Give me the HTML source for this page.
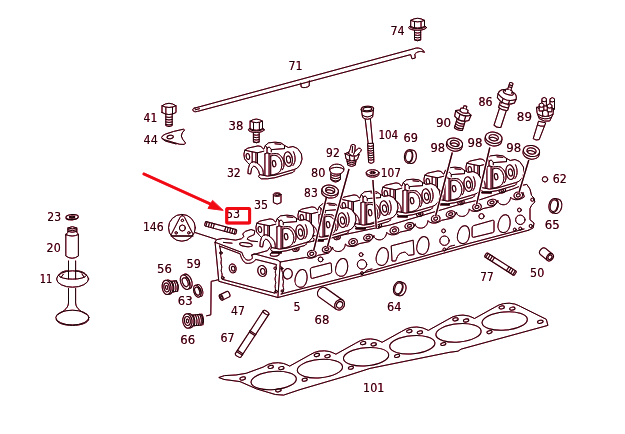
<!DOCTYPE html>
<html><head><meta charset="utf-8"><title>Cylinder head</title>
<style>
html,body{margin:0;padding:0;background:#fff;}
svg{display:block}
.ink{stroke:#160608;stroke-width:1.0;stroke-linejoin:round;stroke-linecap:round}
text{font-family:"DejaVu Sans Condensed","DejaVu Sans","Liberation Sans",sans-serif;font-size:12.8px;fill:#1e080e;stroke:none}
</style></head><body>
<svg width="625" height="434" viewBox="0 0 625 434">
<defs>
<filter id="h" x="0" y="0" width="625" height="434" filterUnits="userSpaceOnUse" color-interpolation-filters="sRGB">
<feColorMatrix in="SourceGraphic" type="matrix" values="0 0 0 0 0  0 0 0 0 0  0 0 0 0 0  -0.5 -0.5 -0.5 0 1.5" result="a"/>
<feGaussianBlur in="a" stdDeviation="0.75" result="b"/>
<feComponentTransfer in="b" result="c"><feFuncA type="linear" slope="1.5" intercept="0"/></feComponentTransfer>
<feFlood flood-color="#ff1a55" flood-opacity="0.55"/>
<feComposite in2="c" operator="in" result="p"/>
<feBlend in="SourceGraphic" in2="p" mode="multiply"/>
</filter>
<g id="br"><path d="M0.0,11.9 L0.8,8.2 L3.9,6.1 L14.0,3.9 L17.2,4.5 L18.8,6.6 L19.8,7.1 L21.4,3.4 L24.6,0.8 L31.0,0.2 L36.8,0.8 L40.5,3.4 L44.2,5.5 L49.0,4.5 L53.7,6.6 L57.4,11.9 L58.0,17.2 L56.4,22.5 L53.2,26.2 L49.5,27.8 L50.6,28.8 L49.0,30.4 L31.0,35.7 L23.5,36.8 L17.2,36.8 L14.5,34.7 L15.6,32.5 L14.5,28.8 L11.9,25.1 L9.8,24.1 L7.7,26.2 L6.6,32.0 L3.9,31.5 L4.3,26.7 L5.5,22.5 L3.4,20.4 L0.8,17.2Z" fill="#fff"/><ellipse cx="3.9" cy="14.5" rx="1.7" ry="3" transform="rotate(-10 3.9 14.5)" fill="none"/><path fill="none" d="M8.2,9.8V20.4 M11.9,10.8V20.9 M13.5,10.8V21.4 M0.8,8.2L8.2,9.8L13.5,10.8L19.8,9.2 M5.5,22.5C7,20.2 8.5,19.6 9.8,19.8C11.8,20 13.3,20.8 14.5,22C17,24.5 18.3,26 18.8,27.8C19.3,29.6 19.3,31.5 19.3,33.1 M20.9,11.9V33.1 M25.1,11.4V33.6 M26.7,14V33.1 M20.9,11.9L23,10.8L26.7,11.9 M23,10.8V6.1L25.1,5L27.3,7.1V9.8 M26.7,14C28.5,13.3 30.4,13.2 32,13.5C34,14.2 35.4,15.6 36.3,17.2C37.4,19.2 37.8,21.3 37.8,23.5C37.8,25.6 37.2,27.4 36.3,28.8C35.2,30.5 33.7,31.4 32,32C30.2,32.6 28.5,33 26.7,33.1 M27.8,11.9C30,11.4 32,11.4 34.1,11.9C36,12.8 37.4,14.3 38.4,16.1C39.5,18.1 40,20.3 40,22.5C40,24.5 39.4,26.3 38.4,27.8 M49.5,9.8C50.6,12 51.1,14.6 51.1,17.2C51.1,19.6 50.3,21.8 49,23.5 M15.6,32.5L23.5,34.1L31,33.1L49,27.8 M21.4,3.4L23.5,6.6 M27.8,7.6L40.5,6.6 M31,1.8L36.8,2.4 M40.5,3.4L40.5,6.6"/><ellipse cx="30.1" cy="21.6" rx="1.7" ry="3.2" fill="none" transform="rotate(-8 30.1 21.6)"/><ellipse cx="44.2" cy="17.2" rx="4.2" ry="7.4" fill="#fff" transform="rotate(-8 44.2 17.2)"/><ellipse cx="44.5" cy="17.5" rx="2" ry="3.6" fill="none" transform="rotate(-8 44.5 17.5)"/></g>
</defs>
<g filter="url(#h)">
<rect width="625" height="434" fill="#fff"/>
<text x="225.9" y="218.2" textLength="14.2" lengthAdjust="spacingAndGlyphs">53</text>
<g class="ink">
<path d="M215.1,242.5 L218.8,281.3 L277.9,297.5 L370.0,273.8 L470.0,245.8 L528.4,230.3 L528.4,230.3 L533.2,227.9 L534.0,223.0 L530.0,219.8 L530.0,208.5 L531.6,205.3 L534.8,202.0 L534.0,198.0 L531.6,195.6 L530.0,189.2 L526.8,184.4 L522.7,185.2 L512.3,189.2 L480.0,199.7 L460.0,204.3 L390.0,225.0 L293.6,245.3 L271.4,247.1 L254.8,230.8 L251.0,229.5 L245.2,231.4 L242.7,234.0 L243.9,236.5 L241.4,238.8 L235.6,240.1 L229.2,239.3 L222.8,238.4 L216.4,239.7Z" fill="#fff" stroke="none"/>
<path d="M215.1,242.5 L218.8,281.3 L277.9,297.5 L280.3,262.0" fill="none" />
<path d="M215.1,242.3 L242,252.5 C242.6,254.5 243,256 243.9,257 C245,259 246.5,260.3 248.4,260.2 C250,260.1 251.5,259.5 252.3,258.3 C252.6,257 252,256 251.6,255.1 L254.2,253.8 L277.9,260.2 L280.3,262" fill="none" />
<path d="M219.6,246.1 L240.1,253.8 C240.8,256 241.2,257.6 242,258.9 C243.2,261.3 245,263.3 247.1,263.4 C249.5,263.5 251.6,263 252.9,262.1 C254.4,261.2 255.2,260.6 255.6,259.4 L276.6,264.6 C275.2,266.5 277.2,268.5 275.6,270.5 C274.4,272.5 276.8,274.5 275.4,277 C274.2,279.5 276.6,282 275.4,284.5 C274.5,287 276.4,289.5 275,293.2 L222.3,279.3 C221,277 223,275 221.6,272.5 C220.4,270 222.6,267.5 221.4,265 C220.2,262.5 222.2,260 221,257.5 C220,255 221.6,252 219.6,246.1Z" fill="none" />
<circle cx="220.9" cy="252.9" r="1.3" fill="none"/>
<circle cx="222.7" cy="277.8" r="1.3" fill="none"/>
<circle cx="275.2" cy="268.3" r="1.3" fill="none"/>
<circle cx="276.1" cy="291.6" r="1.3" fill="none"/>
<ellipse cx="232.7" cy="268.4" rx="3.4" ry="4.5" fill="none" transform="rotate(-12 232.7 268.4)" />
<ellipse cx="233.2" cy="268.7" rx="1.7" ry="2.4" fill="none" transform="rotate(-12 233.2 268.7)" />
<ellipse cx="262.2" cy="271" rx="4.4" ry="5.5" fill="none" transform="rotate(-12 262.2 271)" />
<ellipse cx="262.8" cy="271.4" rx="2.2" ry="3" fill="none" transform="rotate(-12 262.8 271.4)" />
<path d="M215.1,242.5 L216.4,239.7 L222.8,238.4 L229.2,239.3 L235.6,240.1 L241.4,238.8 L243.9,236.5 L242.7,234.0 L245.2,231.4 L251.0,229.5 L254.8,230.8 L254.2,234.6 L248.4,237.2 L247.1,239.1 L251.0,241.0 L257.5,241.6" fill="none" />
<ellipse cx="245.9" cy="244.6" rx="6.4" ry="1.9" fill="none" transform="rotate(8 245.9 244.6)" />
<ellipse cx="274.7" cy="254.4" rx="4.5" ry="1.8" fill="none" transform="rotate(-5 274.7 254.4)" />
<path d="M251.6,255.1 L267.6,250.6 L270.2,246.8" fill="none" />
<path d="M223.4,242.4 L232.0,243.2" fill="none" />
<path d="M280.3,262 L305.8,257.4 Q311.8,259.8 317.8,255.4 L328.3,253.2 Q332.4,250.1 332.6,247.2 C332.6,250.2 335.8,251.8 339.0,251.5 C342.6,251.2 345.2,247.6 345.4,244.0 L347.1,245.7 Q353.1,248.1 359.1,243.7 L369.6,241.5 Q373.7,238.4 373.9,235.5 C373.9,238.5 377.1,240.1 380.3,239.8 C383.9,239.5 386.5,235.9 386.7,232.3 L388.4,234.0 Q394.4,236.4 400.4,232.0 L410.9,229.8 Q415.0,226.7 415.2,223.8 C415.2,226.8 418.4,228.4 421.6,228.1 C425.2,227.8 427.8,224.2 428.0,220.6 L429.7,222.3 Q435.7,224.7 441.7,220.3 L452.2,218.1 Q456.3,215.0 456.5,212.1 C456.5,215.1 459.7,216.7 462.9,216.4 C466.5,216.1 469.1,212.5 469.3,208.9 L471.0,210.6 Q477.0,213.0 483.0,208.6 L493.5,206.4 Q497.6,203.3 497.8,200.4 C497.8,203.4 501.0,205.0 504.2,204.7 C507.8,204.4 510.4,200.8 510.6,197.2 L512.3,198.9 Q518.3,201.3 524.3,196.9 L523,192.5" fill="none" />
<path d="M277.9,297.5 L370.0,273.8 L470.0,245.8 L528.4,230.3" fill="none" />
<path d="M522.7,185.2 L526.8,184.4 L530.0,189.2 L531.6,195.6 L534.0,198.0 L534.8,202.0 L531.6,205.3 L530.0,208.5 L530.0,219.8 L534.0,223.0 L533.2,227.9 L528.4,230.3" fill="none" />
<circle cx="532.4" cy="199.7" r="1.6" fill="none"/>
<circle cx="530.8" cy="226" r="1.6" fill="none"/>
<path d="M281.0,294.0 L370.0,271.2 L470.0,243.2 L524.0,229.0" fill="none" />
<path d="M293.6,245.3 L390.0,225.0 L460.0,204.3 L480.0,199.7 L512.3,189.2 L522.7,185.2" fill="none" />
<path d="M280.6,266 C282.5,268 281,270 282.6,272.5 C284,275 281.8,277.5 283.2,280 C284.4,282.5 282,285 283.4,287.5 C284.4,290 282.6,292 282,294" fill="none" />
<circle cx="281.8" cy="268.5" r="1.1" fill="none"/>
<circle cx="282.2" cy="291" r="1.1" fill="none"/>
<path fill="none" transform="translate(301.2 278.4) rotate(12)" d="M0,-9 C3.5,-9 5.9,-4.5 5.9,1 C5.9,5.7 3.5,9 0,9 C-3.5,9 -5.9,5.7 -5.9,1 C-5.9,-4.5 -3.5,-9 0,-9Z"/>
<path fill="none" transform="translate(341.8 267.4) rotate(12)" d="M0,-9 C3.5,-9 5.9,-4.5 5.9,1 C5.9,5.7 3.5,9 0,9 C-3.5,9 -5.9,5.7 -5.9,1 C-5.9,-4.5 -3.5,-9 0,-9Z"/>
<path fill="none" transform="translate(382.4 256.5) rotate(12)" d="M0,-9 C3.5,-9 5.9,-4.5 5.9,1 C5.9,5.7 3.5,9 0,9 C-3.5,9 -5.9,5.7 -5.9,1 C-5.9,-4.5 -3.5,-9 0,-9Z"/>
<path fill="none" transform="translate(423.0 245.5) rotate(12)" d="M0,-9 C3.5,-9 5.9,-4.5 5.9,1 C5.9,5.7 3.5,9 0,9 C-3.5,9 -5.9,5.7 -5.9,1 C-5.9,-4.5 -3.5,-9 0,-9Z"/>
<path fill="none" transform="translate(463.6 234.6) rotate(12)" d="M0,-9 C3.5,-9 5.9,-4.5 5.9,1 C5.9,5.7 3.5,9 0,9 C-3.5,9 -5.9,5.7 -5.9,1 C-5.9,-4.5 -3.5,-9 0,-9Z"/>
<path fill="none" transform="translate(504.2 223.6) rotate(12)" d="M0,-9 C3.5,-9 5.9,-4.5 5.9,1 C5.9,5.7 3.5,9 0,9 C-3.5,9 -5.9,5.7 -5.9,1 C-5.9,-4.5 -3.5,-9 0,-9Z"/>
<ellipse cx="287.8" cy="273.8" rx="4.5" ry="5.2" fill="none" transform="rotate(10 287.8 273.8)" />
<path d="M310.3,269.5 Q310.2,268.0 311.7,267.6 L329.7,263.0 Q331.2,262.6 331.3,264.1 L331.7,271.5 Q331.8,273.0 330.4,273.4 L312.4,278.4 Q311.0,278.8 310.9,277.3 Z" fill="none" />
<path d="M472.1,227.6 Q472.1,226.1 473.5,225.7 L492.6,220.3 Q494.0,219.9 494.0,221.4 L494.0,230.9 Q494.0,232.4 492.5,232.7 L473.6,237.3 Q472.1,237.6 472.1,236.1 Z" fill="none" />
<path d="M391.6,245.8 L413.2,240.2 L414,254.6 L408.4,255.4 C406.5,253 405.5,252 404.4,252.2 C401.5,252.6 400,253.5 398.8,254.6 C396.8,257 396.4,259.5 395.6,261 L392.4,261Z" fill="none" />
<circle cx="320.6" cy="259.4" r="2.4" fill="none"/>
<circle cx="481.5" cy="216.2" r="2.6" fill="none"/>
<circle cx="362" cy="264.4" r="4.7" fill="none"/>
<circle cx="361.1" cy="254.59999999999997" r="1.9" fill="none"/>
<circle cx="362" cy="273.2" r="1.5" fill="none"/>
<path d="M364.2,272.8 C366.0,269.9 369.0,269.4 372.0,269.0" fill="none" />
<circle cx="444.5" cy="240.7" r="4.7" fill="none"/>
<circle cx="443.6" cy="230.89999999999998" r="1.9" fill="none"/>
<circle cx="444.5" cy="249.5" r="1.5" fill="none"/>
<path d="M446.7,249.1 C448.5,246.2 451.5,245.7 454.5,245.3" fill="none" />
<circle cx="520.3" cy="219.8" r="4.7" fill="none"/>
<circle cx="519.4" cy="210.0" r="1.9" fill="none"/>
<circle cx="520.3" cy="228.60000000000002" r="1.5" fill="none"/>
<circle cx="514.8" cy="229.5" r="1.4" fill="none"/>
<ellipse cx="295.8" cy="249.0" rx="3.3" ry="2.4" fill="none" transform="rotate(-15 295.8 249.0)" />
<ellipse cx="295.8" cy="249.0" rx="1.3" ry="0.9" fill="none" transform="rotate(-15 295.8 249.0)" />
<ellipse cx="311.8" cy="253.8" rx="4.4" ry="3.5" fill="#fff" transform="rotate(-15 311.8 253.8)" />
<ellipse cx="311.8" cy="253.8" rx="2.0" ry="1.5" fill="none" transform="rotate(-15 311.8 253.8)" />
<ellipse cx="326.8" cy="249.2" rx="4.6" ry="3.1" fill="#fff" transform="rotate(-15 326.8 249.2)" />
<ellipse cx="326.8" cy="249.2" rx="2.1" ry="1.3" fill="none" transform="rotate(-15 326.8 249.2)" />
<ellipse cx="337.1" cy="237.3" rx="3.3" ry="2.4" fill="none" transform="rotate(-15 337.1 237.3)" />
<ellipse cx="337.1" cy="237.3" rx="1.3" ry="0.9" fill="none" transform="rotate(-15 337.1 237.3)" />
<ellipse cx="353.1" cy="242.1" rx="4.4" ry="3.5" fill="#fff" transform="rotate(-15 353.1 242.1)" />
<ellipse cx="353.1" cy="242.1" rx="2.0" ry="1.5" fill="none" transform="rotate(-15 353.1 242.1)" />
<ellipse cx="368.1" cy="237.5" rx="4.6" ry="3.1" fill="#fff" transform="rotate(-15 368.1 237.5)" />
<ellipse cx="368.1" cy="237.5" rx="2.1" ry="1.3" fill="none" transform="rotate(-15 368.1 237.5)" />
<ellipse cx="378.4" cy="225.6" rx="3.3" ry="2.4" fill="none" transform="rotate(-15 378.4 225.6)" />
<ellipse cx="378.4" cy="225.6" rx="1.3" ry="0.9" fill="none" transform="rotate(-15 378.4 225.6)" />
<ellipse cx="394.4" cy="230.4" rx="4.4" ry="3.5" fill="#fff" transform="rotate(-15 394.4 230.4)" />
<ellipse cx="394.4" cy="230.4" rx="2.0" ry="1.5" fill="none" transform="rotate(-15 394.4 230.4)" />
<ellipse cx="409.4" cy="225.8" rx="4.6" ry="3.1" fill="#fff" transform="rotate(-15 409.4 225.8)" />
<ellipse cx="409.4" cy="225.8" rx="2.1" ry="1.3" fill="none" transform="rotate(-15 409.4 225.8)" />
<ellipse cx="419.7" cy="213.9" rx="3.3" ry="2.4" fill="none" transform="rotate(-15 419.7 213.9)" />
<ellipse cx="419.7" cy="213.9" rx="1.3" ry="0.9" fill="none" transform="rotate(-15 419.7 213.9)" />
<ellipse cx="435.7" cy="218.7" rx="4.4" ry="3.5" fill="#fff" transform="rotate(-15 435.7 218.7)" />
<ellipse cx="435.7" cy="218.7" rx="2.0" ry="1.5" fill="none" transform="rotate(-15 435.7 218.7)" />
<ellipse cx="450.7" cy="214.1" rx="4.6" ry="3.1" fill="#fff" transform="rotate(-15 450.7 214.1)" />
<ellipse cx="450.7" cy="214.1" rx="2.1" ry="1.3" fill="none" transform="rotate(-15 450.7 214.1)" />
<ellipse cx="461.0" cy="202.2" rx="3.3" ry="2.4" fill="none" transform="rotate(-15 461.0 202.2)" />
<ellipse cx="461.0" cy="202.2" rx="1.3" ry="0.9" fill="none" transform="rotate(-15 461.0 202.2)" />
<ellipse cx="477.0" cy="207.0" rx="4.4" ry="3.5" fill="#fff" transform="rotate(-15 477.0 207.0)" />
<ellipse cx="477.0" cy="207.0" rx="2.0" ry="1.5" fill="none" transform="rotate(-15 477.0 207.0)" />
<ellipse cx="492.0" cy="202.4" rx="4.6" ry="3.1" fill="#fff" transform="rotate(-15 492.0 202.4)" />
<ellipse cx="492.0" cy="202.4" rx="2.1" ry="1.3" fill="none" transform="rotate(-15 492.0 202.4)" />
<ellipse cx="502.3" cy="190.5" rx="3.3" ry="2.4" fill="none" transform="rotate(-15 502.3 190.5)" />
<ellipse cx="502.3" cy="190.5" rx="1.3" ry="0.9" fill="none" transform="rotate(-15 502.3 190.5)" />
<ellipse cx="518.3" cy="195.3" rx="4.4" ry="3.5" fill="#fff" transform="rotate(-15 518.3 195.3)" />
<ellipse cx="518.3" cy="195.3" rx="2.0" ry="1.5" fill="none" transform="rotate(-15 518.3 195.3)" />
<use href="#br" x="466.0" y="155.0"/>
<path d="M482.0,192.4 l9,0.4" stroke-width="2" fill="none"/>
<use href="#br" x="424.0" y="167.0"/>
<path d="M440.0,204.4 l9,0.4" stroke-width="2" fill="none"/>
<use href="#br" x="382.0" y="179.0"/>
<path d="M398.0,216.4 l9,0.4" stroke-width="2" fill="none"/>
<use href="#br" x="340.0" y="191.0"/>
<path d="M356.0,228.4 l9,0.4" stroke-width="2" fill="none"/>
<use href="#br" x="298.0" y="203.0"/>
<path d="M314.0,240.4 l9,0.4" stroke-width="2" fill="none"/>
<use href="#br" x="256.0" y="215.0"/>
<path d="M272.0,252.4 l9,0.4" stroke-width="2" fill="none"/>
<use href="#br" x="244" y="142"/>
<path d="M326.5,197 L313.7,250.5 M349,169 L327.5,246.5 M372.9,180 L376.3,228 M452.3,152.5 L435.6,216 M489.8,147.5 L476.5,204.5 M528.8,160 L519,192.5" fill="none" stroke="#fff" stroke-width="3.4" stroke-linecap="butt"/>
<path d="M326.5,197 L313.7,250.5 M349,169 L327.5,246.5 M372.9,180 L376.3,228 M452.3,152.5 L435.6,216 M489.8,147.5 L476.5,204.5 M528.8,160 L519,192.5" fill="none" stroke-width="1.25" stroke-linecap="butt"/>
<path d="M195,232.5 L215.8,239.2" fill="none" />
<path d="M219.2,377.4 L224.5,375.6 L235.8,375.0 L246.2,373.3 L263.1,367.1 L268.1,364.4 L272.7,363.1 L278.2,362.7 L283.7,363.5 L287.2,364.9 L289.7,366.1 L309.3,355.2 L314.3,352.5 L318.9,351.2 L324.4,350.8 L329.9,351.6 L333.4,353.0 L335.9,354.2 L355.5,343.3 L360.5,340.6 L365.1,339.3 L370.6,338.9 L376.1,339.7 L379.6,341.1 L382.1,342.3 L401.7,331.4 L406.7,328.7 L411.3,327.4 L416.8,327.0 L422.3,327.8 L425.8,329.2 L428.3,330.4 L447.9,319.5 L452.9,316.8 L457.5,315.5 L463.0,315.1 L468.5,315.9 L472.0,317.3 L474.5,318.5 L494.1,307.6 L499.1,304.9 L503.7,303.6 L509.2,303.2 L514.7,304.0 L518.2,305.4 L520.7,306.6 L546.3,319.3 L547.9,325.4 L461.2,349.1 L458.0,351.2 L449.0,352.4 L370.0,368.4 L345.0,376.4 L300.0,389.6 L283.6,395.1 L275.3,394.5 L256.6,388.9 L240.0,381.6 L224.4,379.5Z" fill="#fff" />
<ellipse cx="273.7" cy="380.5" rx="22.7" ry="9.1" fill="none" transform="rotate(-5 273.7 380.5)" />
<ellipse cx="270.7" cy="366.9" rx="2.7" ry="1.5" fill="none" transform="rotate(-12 270.7 366.9)" />
<ellipse cx="281.3" cy="368.1" rx="2.7" ry="1.5" fill="none" transform="rotate(-12 281.3 368.1)" />
<ellipse cx="304.7" cy="379.7" rx="2.6" ry="1.4" fill="none" transform="rotate(-14 304.7 379.7)" />
<ellipse cx="319.9" cy="368.6" rx="22.7" ry="9.1" fill="none" transform="rotate(-5 319.9 368.6)" />
<ellipse cx="316.9" cy="355.0" rx="2.7" ry="1.5" fill="none" transform="rotate(-12 316.9 355.0)" />
<ellipse cx="327.5" cy="356.2" rx="2.7" ry="1.5" fill="none" transform="rotate(-12 327.5 356.2)" />
<ellipse cx="350.9" cy="367.8" rx="2.6" ry="1.4" fill="none" transform="rotate(-14 350.9 367.8)" />
<ellipse cx="366.1" cy="356.7" rx="22.7" ry="9.1" fill="none" transform="rotate(-5 366.1 356.7)" />
<ellipse cx="363.1" cy="343.1" rx="2.7" ry="1.5" fill="none" transform="rotate(-12 363.1 343.1)" />
<ellipse cx="373.7" cy="344.3" rx="2.7" ry="1.5" fill="none" transform="rotate(-12 373.7 344.3)" />
<ellipse cx="397.1" cy="355.9" rx="2.6" ry="1.4" fill="none" transform="rotate(-14 397.1 355.9)" />
<ellipse cx="412.3" cy="344.8" rx="22.7" ry="9.1" fill="none" transform="rotate(-5 412.3 344.8)" />
<ellipse cx="409.3" cy="331.2" rx="2.7" ry="1.5" fill="none" transform="rotate(-12 409.3 331.2)" />
<ellipse cx="419.9" cy="332.4" rx="2.7" ry="1.5" fill="none" transform="rotate(-12 419.9 332.4)" />
<ellipse cx="443.3" cy="344.0" rx="2.6" ry="1.4" fill="none" transform="rotate(-14 443.3 344.0)" />
<ellipse cx="458.5" cy="332.9" rx="22.7" ry="9.1" fill="none" transform="rotate(-5 458.5 332.9)" />
<ellipse cx="455.5" cy="319.3" rx="2.7" ry="1.5" fill="none" transform="rotate(-12 455.5 319.3)" />
<ellipse cx="466.1" cy="320.5" rx="2.7" ry="1.5" fill="none" transform="rotate(-12 466.1 320.5)" />
<ellipse cx="489.5" cy="332.1" rx="2.6" ry="1.4" fill="none" transform="rotate(-14 489.5 332.1)" />
<ellipse cx="504.7" cy="321.0" rx="22.7" ry="9.1" fill="none" transform="rotate(-5 504.7 321.0)" />
<ellipse cx="501.7" cy="307.4" rx="2.7" ry="1.5" fill="none" transform="rotate(-12 501.7 307.4)" />
<ellipse cx="512.3" cy="308.6" rx="2.7" ry="1.5" fill="none" transform="rotate(-12 512.3 308.6)" />
<ellipse cx="242.7" cy="378.5" rx="2.8" ry="1.5" fill="none" transform="rotate(-12 242.7 378.5)" />
<ellipse cx="278.4" cy="390.3" rx="2.8" ry="1.5" fill="none" transform="rotate(-12 278.4 390.3)" />
<ellipse cx="540.3" cy="321.8" rx="2.8" ry="1.5" fill="none" transform="rotate(-12 540.3 321.8)" />
<path d="M195,108 L413.3,48.9 C418,46.8 423,48.6 424.4,52.4 C421,50.6 417,51.6 414.8,54 L415.3,58 L412,58.8 L410.7,54.6 L197.5,111.4 C195,112.2 192.8,111.5 192.8,109.8 C192.8,108.4 194,108 195,108Z M195.2,109.8 L199.5,108.7" fill="#fff" />
<path d="M300.8,83.2 L301.2,87 C303.5,88.2 307,87.6 309.2,86 L309.4,80.9" fill="none" />
<path d="M414.5,29.7 V39.8 Q417.6,41.8 420.70000000000005,39.8 V29.7" fill="#fff" />
<path d="M414.5,32.6 Q417.6,33.6 420.70000000000005,32.6" fill="none" />
<path d="M414.5,35.0 Q417.6,36.0 420.70000000000005,35.0" fill="none" />
<path d="M414.5,37.4 Q417.6,38.4 420.70000000000005,37.4" fill="none" />
<path d="M414.5,39.8 Q417.6,40.8 420.70000000000005,39.8" fill="none" />
<ellipse cx="417.6" cy="27.599999999999998" rx="8.9" ry="2.7" fill="#fff" />
<ellipse cx="417.6" cy="26.599999999999998" rx="7.7" ry="2.1" fill="#fff" />
<path d="M410.70000000000005,26.599999999999998 V20.4 Q417.6,16.2 424.5,20.4 V26.599999999999998 Q417.6,29.599999999999998 410.70000000000005,26.599999999999998Z" fill="#fff" />
<path d="M410.70000000000005,20.4 Q417.6,23.4 424.5,20.4 M414.495,21.9 V27.9 M421.05,21.799999999999997 V27.799999999999997" fill="none" />
<path d="M253.4,131.9 V141.8 Q256.3,143.8 259.2,141.8 V131.9" fill="#fff" />
<path d="M253.4,134.8 Q256.3,135.8 259.2,134.8" fill="none" />
<path d="M253.4,137.2 Q256.3,138.2 259.2,137.2" fill="none" />
<path d="M253.4,139.6 Q256.3,140.6 259.2,139.6" fill="none" />
<path d="M253.4,142.0 Q256.3,143.0 259.2,142.0" fill="none" />
<ellipse cx="256.3" cy="129.8" rx="7.9" ry="2.7" fill="#fff" />
<ellipse cx="256.3" cy="128.8" rx="6.7" ry="2.1" fill="#fff" />
<path d="M250.10000000000002,128.8 V121.2 Q256.3,117.0 262.5,121.2 V128.8 Q256.3,131.8 250.10000000000002,128.8Z" fill="#fff" />
<path d="M250.10000000000002,121.2 Q256.3,124.2 262.5,121.2 M253.51000000000002,122.7 V130.10000000000002 M259.40000000000003,122.60000000000001 V130.0" fill="none" />
<path d="M165.8,114.0 V125.6 Q169,127.6 172.2,125.6 V114.0" fill="#fff" />
<path d="M165.8,117.0 Q169,118.0 172.2,117.0" fill="none" />
<path d="M165.8,119.5 Q169,120.5 172.2,119.5" fill="none" />
<path d="M165.8,122.0 Q169,123.0 172.2,122.0" fill="none" />
<path d="M165.8,124.5 Q169,125.5 172.2,124.5" fill="none" />
<path d="M162,112.5 V105.8 Q169,100.8 176,105.8 V112.5 Q169,116.7 162,112.5Z" fill="#fff" />
<path d="M162,105.8 Q169,109.3 176,105.8 M165.85,107.5 V114.3 M172.5,107.3 V114.2" fill="none" />
<path d="M183,129.3 L173.4,131.5 L165.7,134 Q162,135.4 161.6,137.5 Q161.8,139 163.8,139.6 L172.1,142.1 L179.8,144.3 L184.3,144.4 L185.6,143 Q182,139.2 181.3,136 Q181.4,133 184.3,130.2Z" fill="#fff" />
<path d="M162.6,138.4 Q163.4,140.6 166,141.2 L176,143.9" fill="none" />
<ellipse cx="170.2" cy="137" rx="3.2" ry="1.7" fill="none" transform="rotate(-12 170.2 137)" />
<ellipse cx="72.1" cy="217.1" rx="6.2" ry="2.6" fill="none" transform="rotate(-5 72.1 217.1)" />
<ellipse cx="72.1" cy="217.1" rx="2.6" ry="1.1" fill="none" transform="rotate(-5 72.1 217.1)" />
<path d="M66.5,218.2 C68,220.4 76,220.4 78,217.8 M69.3,216.2 L74.8,218 M74.8,216.2L69.4,218" fill="none" />
<path d="M65.8,235 V256 Q72.1,260.5 78.4,256 V235 Q78.4,233.3 76.8,232.6 V228 Q72.3,225.2 67.9,228 V232.6 Q65.8,233.3 65.8,235Z" fill="#fff" />
<path d="M67.9,228 Q72.3,230 76.8,228 M67.9,229.8 Q72.3,231.8 76.8,229.8 M67.9,231.4 Q72.3,233.4 76.8,231.4 M66,234.6 Q72.1,237.6 78.2,234.6" fill="none" />
<path d="M68.5,261 V279 M75.6,261 V279" fill="none" />
<ellipse cx="72.6" cy="279" rx="16" ry="8.2" fill="none" />
<path d="M58.6,275.5 C60,271.5 66,270.6 68.5,270.8 M75.6,270.8 C80,270.6 85.5,272.5 86.6,275.4 M58.6,275.5 C60,280.5 85,280.5 86.6,275.4 M61,277.4 L63.4,274.2 M84,277 L82,274" fill="none" />
<path d="M68.5,288.5 V303 C68.2,309 62,312 57.6,314.6 M75.6,288.5 V303 C75.9,309 82,312 86.8,314.4" fill="none" />
<ellipse cx="72.4" cy="317.6" rx="16.6" ry="7.4" fill="none" />
<path d="M56.2,319.5 C58,327.5 87,327.5 88.8,319.3" fill="none" />
<circle cx="181.9" cy="227.8" r="13.4" fill="#fff"/>
<path d="M182.3,215.6 C183.4,215.6 184.2,216.6 184.8,217.8 L192.6,233.4 C193.4,235 192.6,236 191,236 L173.4,236 C171.6,236 171,235 171.8,233.4 L179.8,217.8 C180.4,216.6 181.2,215.6 182.3,215.6Z" fill="none" />
<circle cx="182.4" cy="228" r="3" fill="none"/>
<circle cx="182.4" cy="220.4" r="1.2" fill="none"/>
<circle cx="176.2" cy="232.8" r="1.2" fill="none"/>
<circle cx="188.8" cy="232.8" r="1.2" fill="none"/>
<path d="M171.2,236 L193,236" fill="none" />
<g transform="translate(205 223.6) rotate(14.98)"><rect x="0" y="-2.3" width="32.5" height="4.6" rx="1.2" fill="#fff"/><path d="M1.6,-2.3V2.3M4.1,-2.3V2.3M6.6,-2.3V2.3M9.1,-2.3V2.3M30.9,-2.3V2.3M28.4,-2.3V2.3M25.9,-2.3V2.3M23.4,-2.3V2.3M20.9,-2.3V2.3" fill="none"/></g>
<g transform="translate(485.6 254.6) rotate(32.52)"><rect x="0" y="-2.4" width="35.3" height="4.8" rx="1.2" fill="#fff"/><path d="M1.6,-2.4V2.4M4.1,-2.4V2.4M6.6,-2.4V2.4M9.1,-2.4V2.4M33.7,-2.4V2.4M31.2,-2.4V2.4M28.7,-2.4V2.4M26.2,-2.4V2.4" fill="none"/></g>
<g stroke="#f0141e" fill="#f0141e"><path d="M144,174 L211.5,204.5" stroke-width="3" fill="none"/><path d="M222.8,210.3 L208,208.4 L212.4,200.8Z" stroke-width="0.8"/><rect x="226.7" y="208.4" width="22.9" height="14.6" rx="1" fill="none" stroke-width="3"/></g>
<path d="M273.4,194.6 V202.6 Q277.2,205.6 281,202.6 V194.6" fill="#fff" />
<ellipse cx="277.2" cy="194.6" rx="3.8" ry="1.8" fill="#fff" />
<ellipse cx="277.2" cy="194.6" rx="2.2" ry="0.9" fill="none" />
<g transform="translate(166.6 287.4) rotate(-8)"><path d="M0,-5.4 H10.0 Q13.0,0 10.0,5.4 H0Z" fill="#fff"/><path d="M6.0,-5.4 Q8.4,0 6.0,5.4M8.2,-5.4 Q10.6,0 8.2,5.4M10.4,-5.4 Q12.8,0 10.4,5.4" fill="none"/><ellipse cx="2" cy="0" rx="4.4" ry="7.2" fill="#fff"/><ellipse cx="0" cy="0" rx="4.4" ry="7.2" fill="#fff"/><ellipse cx="0" cy="0" rx="2.7" ry="4.5" fill="none"/><ellipse cx="0" cy="0" rx="1.1" ry="2.0" fill="none"/></g>
<g transform="translate(187.4 321) rotate(-6)"><path d="M0,-5.4 H14.0 Q17.0,0 14.0,5.4 H0Z" fill="#fff"/><path d="M6.2,-5.4 Q8.6,0 6.2,5.4M8.4,-5.4 Q10.8,0 8.4,5.4M10.6,-5.4 Q13.0,0 10.6,5.4M12.8,-5.4 Q15.2,0 12.8,5.4M15.0,-5.4 Q17.4,0 15.0,5.4" fill="none"/><ellipse cx="2" cy="0" rx="4.6" ry="7.2" fill="#fff"/><ellipse cx="0" cy="0" rx="4.6" ry="7.2" fill="#fff"/><ellipse cx="0" cy="0" rx="2.9" ry="4.5" fill="none"/><ellipse cx="0" cy="0" rx="1.1" ry="2.0" fill="none"/></g>
<g transform="translate(185.2 282.2) rotate(-22)"><ellipse cx="2.2" cy="0" rx="4.4" ry="7.6" fill="#fff"/><ellipse cx="0" cy="0" rx="4.4" ry="7.6" fill="#fff"/><ellipse cx="0" cy="0" rx="2.6" ry="4.6" fill="none"/><path d="M2.5,-4.3 A2.6,4.6 0 0 1 2.5,4.3" fill="none"/></g>
<g transform="translate(197.2 291.2) rotate(-18)"><ellipse cx="2.0" cy="0" rx="3.4" ry="6.2" fill="#fff"/><ellipse cx="0" cy="0" rx="3.4" ry="6.2" fill="#fff"/><ellipse cx="0" cy="0" rx="2.3" ry="4.2" fill="none"/><path d="M2.3,-4.0 A2.3,4.2 0 0 1 2.3,4.0" fill="none"/></g>
<path d="M218,279.8 L214.9,280.6 L211.2,281.3 L210.8,314.9 L206.6,315.8" fill="none" />
<g transform="translate(228 294.2) rotate(154.80)"><path d="M0,-3.0 H7.5 V3.0 H0 A1.6,3.0 0 0 1 0,-3.0Z" fill="#fff"/><ellipse cx="7.5" cy="0" rx="1.6" ry="3.0" fill="#fff"/><ellipse cx="7.5" cy="0" rx="0.88" ry="1.65" fill="none"/></g>
<g transform="translate(238.2 355.2) rotate(-56.87)"><path d="M0,-3.3 H50.9 V3.3 H0 A1.5,3.3 0 0 1 0,-3.3Z" fill="#fff"/><ellipse cx="50.9" cy="0" rx="1.5" ry="3.3" fill="#fff"/></g>
<g transform="translate(238.2 355.2) rotate(-56.9)"><path d="M2.2,-3.3V3.3M3.8,-3.3V3.3M25.5,-3.3V3.3M27,-3.6V3.6" fill="none"/></g>
<g transform="translate(322.4 292.6) rotate(35.35)"><path d="M0,-5.6 H21.1 V5.6 H0 A4.6,5.6 0 0 1 0,-5.6Z" fill="#fff"/><ellipse cx="21.1" cy="0" rx="4.6" ry="5.6" fill="#fff"/><ellipse cx="21.1" cy="0" rx="2.85" ry="3.47" fill="none"/></g>
<g transform="translate(543 251.5) rotate(39.16)"><path d="M0,-4.0 H9.0 V4.0 H0 A3.0,4.0 0 0 1 0,-4.0Z" fill="#fff"/><ellipse cx="9.0" cy="0" rx="3.0" ry="4.0" fill="#fff"/><ellipse cx="9.0" cy="0" rx="1.80" ry="2.40" fill="none"/></g>
<g transform="translate(398.2 288.2) rotate(18)"><path d="M0,-6.8 H3.2 A4.6,6.8 0 0 1 3.2,6.8 H0Z" fill="#fff"/><ellipse cx="0" cy="0" rx="4.6" ry="6.8" fill="#fff"/><ellipse cx="0.3" cy="0" rx="3.6" ry="5.6" fill="none"/></g>
<g transform="translate(553.6 205.6) rotate(12)"><path d="M0,-7.2 H3.6 A4.6,7.2 0 0 1 3.6,7.2 H0Z" fill="#fff"/><ellipse cx="0" cy="0" rx="4.6" ry="7.2" fill="#fff"/><ellipse cx="0.3" cy="0" rx="3.6" ry="5.9" fill="none"/></g>
<g transform="translate(408.6 156.4) rotate(8)"><path d="M0,-6.6 H3.6 A4.2,6.6 0 0 1 3.6,6.6 H0Z" fill="#fff"/><ellipse cx="0" cy="0" rx="4.2" ry="6.6" fill="#fff"/><ellipse cx="0.3" cy="0" rx="3.3" ry="5.4" fill="none"/></g>
<circle cx="545" cy="179.3" r="2.7" fill="none"/>
<g transform="translate(454.7 143.4) rotate(12)"><path d="M-8.0,0 V2.4 A8.0,5.3 0 0 0 8.0,2.4 V0Z" fill="#fff"/><ellipse cx="0" cy="0" rx="8.0" ry="5.3" fill="#fff"/><ellipse cx="0" cy="0" rx="4.5" ry="3.0" fill="none"/><path d="M-4.0,1.3 A4.5,3.0 0 0 1 4.0,1.3" fill="none"/></g>
<g transform="translate(493.7 137.8) rotate(10)"><path d="M-8.4,0 V2.6 A8.4,5.6 0 0 0 8.4,2.6 V0Z" fill="#fff"/><ellipse cx="0" cy="0" rx="8.4" ry="5.6" fill="#fff"/><ellipse cx="0" cy="0" rx="4.7" ry="3.1" fill="none"/><path d="M-4.2,1.4 A4.7,3.1 0 0 1 4.2,1.4" fill="none"/></g>
<g transform="translate(531.5 151) rotate(10)"><path d="M-8.2,0 V2.6 A8.2,5.5 0 0 0 8.2,2.6 V0Z" fill="#fff"/><ellipse cx="0" cy="0" rx="8.2" ry="5.5" fill="#fff"/><ellipse cx="0" cy="0" rx="4.6" ry="3.1" fill="none"/><path d="M-4.1,1.4 A4.6,3.1 0 0 1 4.1,1.4" fill="none"/></g>
<g transform="translate(330.2 190.4) rotate(10)"><path d="M-8.3,0 V2.4 A8.3,5.2 0 0 0 8.3,2.4 V0Z" fill="#fff"/><ellipse cx="0" cy="0" rx="8.3" ry="5.2" fill="#fff"/><ellipse cx="0" cy="0" rx="4.6" ry="2.9" fill="none"/><path d="M-4.2,1.3 A4.6,2.9 0 0 1 4.2,1.3" fill="none"/></g>
<g transform="translate(372.6 172.6) rotate(0)"><path d="M-6.3,0 V1.6 A6.3,2.9 0 0 0 6.3,1.6 V0Z" fill="#fff"/><ellipse cx="0" cy="0" rx="6.3" ry="2.9" fill="#fff"/><ellipse cx="0" cy="0" rx="2.5" ry="1.2" fill="none"/><path d="M-2.3,0.5 A2.5,1.2 0 0 1 2.3,0.5" fill="none"/></g>
<path d="M330.8,171.5 V179.5 Q335.6,184.5 340.4,179.5 V171.5" fill="#fff" />
<path d="M330.8,174.6 Q335.6,178 340.4,174.6 M330.8,177 Q335.6,180.6 340.4,177 M330.8,179.2 Q335.6,183 340.4,179.2" fill="none" />
<path d="M329.5,169 C329.5,162.5 343.9,162.5 343.9,169 C343.9,172.4 341,174.2 336.7,174.2 C332.4,174.2 329.5,172.4 329.5,169Z" fill="#fff" />
<path d="M329.6,169.6 C331,166.5 342.5,166.5 343.8,169.6" fill="none" />
<path d="M346.8,159.4 L347.8,165.2 Q351.7,167.8 355.3,165.2 L356,160.4Z" fill="#fff" />
<path d="M347.1,161.4 Q351.6,164 355.8,161.8 M347.5,163.3 Q351.7,166 355.5,163.6" fill="none" />
<path d="M345.2,153.6 L345.9,158.7 Q351.5,162.6 357.4,159.4 L359.2,154.4 Q353,149 345.2,153.6Z" fill="#fff" />
<path d="M345.2,153.6 Q351.6,158 359.2,154.4 M349.4,155.6 L349.9,160.4 M354.4,155.8 L354.2,160.8" fill="none" />
<path d="M348.4,153.4 L350.4,148.5 L351,145.4 Q353,143.2 355.3,145.4 L354.8,151.4 L358.5,148.3 Q360.4,147.6 361.4,149.7 L360.7,151.6 L356.2,156 Q352,157 348.4,153.4Z" fill="#fff" />
<path d="M352.6,146.5 L352.2,152.6 M354.8,151.4 L353.6,154.4" fill="none" />
<path d="M365.2,119 L368.2,144 M370.4,119 L372.6,143.4" fill="none" />
<path d="M367.6,144 L368.6,162.4 Q371.2,164.4 373.8,162.2 L373.4,143.6Z" fill="#fff" />
<path d="M367.9,146.0 Q370.8,147.2 373.5,145.7 M368.0,148.3 Q370.8,149.5 373.6,148.0 M368.1,150.6 Q370.8,151.8 373.6,150.3 M368.2,152.9 Q370.8,154.1 373.7,152.6 M368.4,155.2 Q370.8,156.4 373.7,154.9 M368.5,157.5 Q370.8,158.7 373.8,157.2 M368.6,159.8 Q370.8,161.0 373.8,159.5 " fill="none" />
<path d="M361.2,109.4 L362.6,117.4 Q367.6,121.4 372.6,117 L373.6,108.8" fill="#fff" />
<ellipse cx="367.4" cy="109" rx="6.2" ry="2.7" fill="#fff" transform="rotate(-3 367.4 109)" />
<ellipse cx="367.4" cy="109" rx="4.4" ry="1.7" fill="none" transform="rotate(-3 367.4 109)" />
<path d="M362.4,115.2 Q367.6,119 372.8,114.8" fill="none" />
<g transform="translate(462.6 115.4) rotate(17)"><path d="M-4.2,4 V14.4 Q0,16.6 4.2,14.4 V4" fill="#fff"/><path d="M-4.2,7.6 Q0,9.8 4.2,7.6 M-4.2,10 Q0,12.2 4.2,10 M-4.2,12.4 Q0,14.6 4.2,12.4" fill="none"/><path d="M-8,-2.6 L-7.4,3 Q0,8 7.4,3 L8,-2.6 Q0,-7.4 -8,-2.6Z" fill="#fff"/><path d="M-8,-2.6 Q0,2.4 8,-2.6 M-2.8,0 V5.4 M3.2,-0.1 V5.2" fill="none"/><path d="M-3.8,-3.4 V-6.4 Q0,-8.4 3.8,-6.4 V-3.4 Q0,-1.6 -3.8,-3.4Z" fill="#fff"/><path d="M-1.5,-7.2 V-9.6 Q0,-10.6 1.5,-9.6 V-7.2" fill="#fff"/></g>
<g transform="translate(506.6 98) rotate(18)"><path d="M-3.6,11 V29.6 Q0,31.6 3.6,29.6 V11" fill="#fff"/><path d="M-4.8,6 V11.4 Q0,13.6 4.8,11.4 V6" fill="#fff"/><path d="M-4.8,8.6 Q0,10.8 4.8,8.6" fill="none"/><path d="M-9.4,-1.5 C-9.4,-6.5 -5,-8 0,-8 C5,-8 9.4,-6.5 9.4,-1.5 L9,2.4 Q0,9.6 -9,2.4Z" fill="#fff"/><path d="M-9.4,-1.5 Q0,5.4 9.4,-1.5 M-3.2,1.6 V6.4 M3.6,1.5 V6.2" fill="none"/><ellipse cx="0" cy="-5.6" rx="5.2" ry="2" fill="#fff"/><path d="M-3.4,-6 V-8.2 Q0,-9.8 3.4,-8.2 V-6" fill="#fff"/><path d="M-1.7,-8.8 V-15.6 Q0,-17 1.7,-15.6 V-8.8 M-1.7,-11.4 H1.7 M-1.7,-13.4 H1.7" fill="#fff"/></g>
<path d="M538.4,121.6 L533.2,138.7 Q536,140.8 539.2,139.6 L545.6,123.2Z" fill="#fff" />
<path d="M537.4,125 Q540.5,126.8 544.4,126.2" fill="none" />
<path d="M541.9,108.5 V98.6 Q544.15,96.19999999999999 546.4,98.6 V108.5Z" fill="#fff" />
<path d="M541.9,101.19999999999999 Q544.15,102.39999999999999 546.4,101.19999999999999" fill="none" />
<path d="M550,109 V98.8 Q552.25,96.39999999999999 554.5,98.8 V109Z" fill="#fff" />
<path d="M550,101.39999999999999 Q552.25,102.6 554.5,101.39999999999999" fill="none" />
<path d="M536.8,107.4 Q545,103.6 553.7,108.6 L553,114.2 L549.7,121 Q544.4,122.4 539.2,118.6 L537.2,113Z" fill="#fff" />
<path d="M536.8,107.4 Q544.6,112.8 553.7,108.6 M537.6,114 Q545,119 553,114.4 M538.4,116.4 Q544.6,121 551.6,117.4 M542.4,110.6 L542.8,116.6 M548.4,110.6 L548.2,116.4" fill="none" />
<path d="M539.2,110.6 V104.2 Q541.5,101.8 543.8,104.2 V110.6Z" fill="#fff" />
<path d="M539.2,106.8 Q541.5,108.0 543.8,106.8" fill="none" />
<path d="M547.3,111.4 V105 Q549.5999999999999,102.6 551.9,105 V111.4Z" fill="#fff" />
<path d="M547.3,107.6 Q549.5999999999999,108.8 551.9,107.6" fill="none" />
</g>
<text x="390.5" y="35.4" textLength="14.2" lengthAdjust="spacingAndGlyphs">74</text><text x="288.6" y="70.1" textLength="14.0" lengthAdjust="spacingAndGlyphs">71</text><text x="143.6" y="121.6" textLength="13.6" lengthAdjust="spacingAndGlyphs">41</text><text x="143.6" y="144.0" textLength="14.2" lengthAdjust="spacingAndGlyphs">44</text><text x="228.6" y="130.4" textLength="14.8" lengthAdjust="spacingAndGlyphs">38</text><text x="226.9" y="177.2" textLength="13.8" lengthAdjust="spacingAndGlyphs">32</text><text x="253.9" y="208.9" textLength="14.1" lengthAdjust="spacingAndGlyphs">35</text><text x="142.9" y="230.7" textLength="20.8" lengthAdjust="spacingAndGlyphs">146</text><text x="47.3" y="221.0" textLength="13.8" lengthAdjust="spacingAndGlyphs">23</text><text x="46.6" y="251.7" textLength="14.1" lengthAdjust="spacingAndGlyphs">20</text><text x="39.7" y="282.7" textLength="12.5" lengthAdjust="spacingAndGlyphs">11</text><text x="157.0" y="273.0" textLength="14.8" lengthAdjust="spacingAndGlyphs">56</text><text x="186.5" y="268.3" textLength="14.3" lengthAdjust="spacingAndGlyphs">59</text><text x="177.8" y="305.2" textLength="14.8" lengthAdjust="spacingAndGlyphs">63</text><text x="180.3" y="344.2" textLength="14.8" lengthAdjust="spacingAndGlyphs">66</text><text x="231.1" y="315.4" textLength="13.8" lengthAdjust="spacingAndGlyphs">47</text><text x="220.4" y="341.6" textLength="14.0" lengthAdjust="spacingAndGlyphs">67</text><text x="293.6" y="311.1" textLength="7.0" lengthAdjust="spacingAndGlyphs">5</text><text x="314.6" y="324.4" textLength="14.8" lengthAdjust="spacingAndGlyphs">68</text><text x="387.1" y="310.5" textLength="14.3" lengthAdjust="spacingAndGlyphs">64</text><text x="363.1" y="392.1" textLength="21.2" lengthAdjust="spacingAndGlyphs">101</text><text x="480.3" y="281.1" textLength="13.3" lengthAdjust="spacingAndGlyphs">77</text><text x="530.1" y="276.9" textLength="14.1" lengthAdjust="spacingAndGlyphs">50</text><text x="544.8" y="229.0" textLength="15.0" lengthAdjust="spacingAndGlyphs">65</text><text x="552.8" y="182.6" textLength="14.0" lengthAdjust="spacingAndGlyphs">62</text><text x="430.4" y="151.9" textLength="14.7" lengthAdjust="spacingAndGlyphs">98</text><text x="467.6" y="147.1" textLength="15.0" lengthAdjust="spacingAndGlyphs">98</text><text x="506.2" y="152.4" textLength="15.0" lengthAdjust="spacingAndGlyphs">98</text><text x="435.9" y="126.5" textLength="15.2" lengthAdjust="spacingAndGlyphs">90</text><text x="478.4" y="106.3" textLength="14.0" lengthAdjust="spacingAndGlyphs">86</text><text x="516.8" y="121.2" textLength="15.2" lengthAdjust="spacingAndGlyphs">89</text><text x="378.4" y="138.9" textLength="19.8" lengthAdjust="spacingAndGlyphs">104</text><text x="403.6" y="142.0" textLength="14.5" lengthAdjust="spacingAndGlyphs">69</text><text x="326.1" y="156.5" textLength="13.7" lengthAdjust="spacingAndGlyphs">92</text><text x="311.0" y="176.6" textLength="14.3" lengthAdjust="spacingAndGlyphs">80</text><text x="380.8" y="177.3" textLength="20.1" lengthAdjust="spacingAndGlyphs">107</text><text x="304.1" y="196.6" textLength="13.6" lengthAdjust="spacingAndGlyphs">83</text>
</g>
</svg>
</body></html>
